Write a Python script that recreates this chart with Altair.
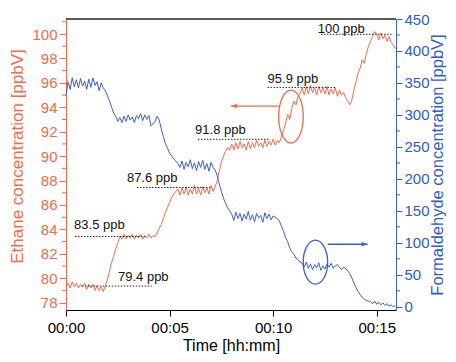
import altair as alt
import pandas as pd

# ---- data ----
time_min = [i / 10 for i in range(160)]  # 0.0 ... 15.9 min sampling grid

ethane = [
    79.3, 79.6, 79.2, 79.7, 79.3, 79.6, 79.2, 79.5, 79.3, 79.6, 79.1, 79.5, 79.2, 79.5, 79.0, 79.4, 79.0, 79.3, 78.9, 79.4,
    79.9, 80.6, 81.3, 81.8, 82.4, 82.9, 83.4, 83.2,
    83.6, 83.2, 83.5, 83.3, 83.6, 83.2, 83.5, 83.3, 83.6, 83.2, 83.5, 83.3, 83.6, 83.3, 83.5, 83.4,
    83.7, 84.1, 84.4, 84.9, 85.4, 85.8, 86.2, 86.6, 86.9, 87.1, 87.3,
    86.8, 87.4, 86.9, 87.5, 86.8, 87.3, 86.9, 87.6, 86.9, 87.4, 86.8, 87.5, 87.0, 87.4, 86.9, 87.6, 87.1, 87.5,
    88.0, 88.8, 89.5, 90.0, 90.4, 90.7, 90.5,
    91.0, 90.5, 91.1, 90.6, 91.2, 90.7, 91.0, 90.5, 91.2, 90.6, 91.1, 90.7, 91.3, 90.8, 91.1, 90.7, 91.3, 90.8, 91.2, 90.9, 91.4, 90.9, 91.3, 91.1,
    91.6, 92.1, 92.7, 93.4, 93.0, 93.9, 94.5, 94.2, 94.9, 95.1,
    95.6, 95.0, 95.7, 95.1, 95.8, 95.2, 95.6, 95.0, 95.7, 95.2, 95.6, 95.1, 95.7, 95.0, 95.5, 95.1, 95.6, 94.9, 95.4, 95.0, 95.2, 94.8,
    94.5, 94.2, 94.6,
    95.4, 96.1, 96.8, 97.2, 97.9, 97.6, 98.4, 99.0, 99.4, 99.8, 100.2, 100.0,
    99.5, 100.1, 99.6, 99.9, 99.4, 99.8, 99.3, 99.1, 98.8,
]

formaldehyde = [
    330, 352, 340, 358, 344, 355, 342, 357, 345, 353, 340, 356, 343, 358, 346, 352, 338, 350, 342,
    338, 330, 322, 312, 303, 298, 290, 296, 288,
    298, 290, 300, 292, 297, 288, 299, 294, 302, 291, 300, 293, 299, 283, 286, 290, 298, 292,
    278, 266, 255, 248, 240, 236, 231, 228, 224,
    218, 228, 215, 226, 219, 230, 216, 225, 213, 227, 218, 229, 215, 224, 212, 226, 218, 214,
    205, 192, 180, 170, 162, 155, 150,
    145, 135, 148, 138, 146, 134, 145, 137, 149, 136, 144, 133, 146, 139, 143, 132, 147, 138, 145, 136, 142, 140, 138, 134,
    126, 118, 108, 102, 92, 86, 82, 76, 74, 70, 68,
    62, 70, 60, 67, 58, 66, 61, 69, 57, 64, 59, 67, 62, 68, 60, 64, 66, 62, 58, 62, 60,
    56, 52, 45, 37, 30, 24, 19, 15, 12, 10, 9, 8,
    5, 9, 4, 7, 3, 6, 2, 5, 1, 3, 0, 2,
]

level_labels = ["79.4 ppb", "83.5 ppb", "87.6 ppb", "91.8 ppb", "95.9 ppb", "100 ppb"]
level_values = [79.36, 83.42, 87.43, 91.38, 95.63, 99.98]
level_start = [0.76, 0.43, 3.43, 6.37, 9.73, 12.31]
level_end = [4.14, 3.81, 6.95, 9.85, 13.03, 15.77]
label_x = [2.51, 0.39, 2.94, 6.23, 9.73, 12.15]
label_y = [79.77, 84.0, 87.92, 91.85, 95.99, 100.08]

left_major = [78, 80, 82, 84, 86, 88, 90, 92, 94, 96, 98, 100]
left_minor = [79, 81, 83, 85, 87, 89, 91, 93, 95, 97, 99, 101]
right_major = [0, 50, 100, 150, 200, 250, 300, 350, 400, 450]
right_minor = [25, 75, 125, 175, 225, 275, 325, 375, 425]
x_ticks = [0, 5, 10, 15]

# annotation anchors (data coordinates)
orange_ellipse_t, orange_ellipse_v = [10.86], [93.24]
orange_arrow_from, orange_arrow_to, orange_arrow_v = [10.27], [7.96], [94.10]
blue_ellipse_t, blue_ellipse_v = [12.04], [69.7]
blue_arrow_from, blue_arrow_to, blue_arrow_v = [12.63], [14.56], [97.8]

# ---- styling ----
ORANGE = "#F2694A"
ORANGE_TXT = "#F46A4C"
BLUE = "#3A5FCD"
BLUE_TXT = "#2F5BC6"
FONT = "Liberation Sans"
W, H = 330, 291

XDOM = [0, 15.93]
LDOM = [77.40, 101.23]
RDOM = [-5, 450]

series = pd.DataFrame({"t": time_min, "ethane": ethane, "hcho": formaldehyde})
levels = pd.DataFrame({"lab": level_labels, "v": level_values, "x0": level_start,
                       "x1": level_end, "lx": label_x, "ly": label_y})

xs = alt.Scale(domain=XDOM, nice=False, zero=False)
ls = alt.Scale(domain=LDOM, nice=False, zero=False)
rs = alt.Scale(domain=RDOM, nice=False, zero=False)

x_axis = alt.Axis(values=x_ticks, labelExpr="'00:' + (datum.value < 10 ? '0' : '') + datum.value",
                  title="Time [hh:mm]", tickSize=6, labelPadding=4, titlePadding=2,
                  domainColor="black", tickColor="black", labelColor="black", titleColor="black",
                  labelFontSize=15, titleFontSize=16, titleFontWeight="normal", grid=False,
                  labelFlush=False)

left_axis = alt.Axis(values=left_major, title="Ethane concentration [ppbV]", orient="left",
                     tickSize=7, labelPadding=2, titlePadding=5, titleY=137,
                     domainColor=ORANGE, tickColor=ORANGE, labelColor=ORANGE_TXT, titleColor=ORANGE_TXT,
                     labelFontSize=15, titleFontSize=17, titleFontWeight="normal", grid=False)

right_axis = alt.Axis(values=right_major, title="Formaldehyde concentration [ppbV]", orient="right",
                      tickSize=6, labelPadding=2, titlePadding=0, titleAngle=270, titleBaseline="top",
                      domainColor=BLUE, tickColor=BLUE, labelColor=BLUE_TXT, titleColor=BLUE_TXT,
                      labelFontSize=15, titleFontSize=16.5, titleFontWeight="normal", grid=False)


def X(field):
    return alt.X(field, scale=xs, axis=x_axis)


def YL(field):
    return alt.Y(field, scale=ls, axis=left_axis)


def YR(field):
    return alt.Y(field, scale=rs, axis=right_axis)


# ---- left (ethane) group ----
orange_line = alt.Chart(series).mark_line(color=ORANGE, strokeWidth=1).encode(
    x=X("t:Q"), y=YL("ethane:Q"))

lminor = alt.Chart(pd.DataFrame({"v": left_minor})).mark_rule(color=ORANGE, strokeWidth=1).encode(
    y=YL("v:Q"), x=alt.value(-4), x2=alt.value(0))

top_line = alt.Chart(pd.DataFrame({"v": [LDOM[1]]})).mark_rule(color="#222222", strokeWidth=1.6).encode(
    y=YL("v:Q"), x=alt.value(0), x2=alt.value(W))

dotted = alt.Chart(levels).mark_rule(color="#222222", strokeWidth=1, strokeDash=[1.5, 1.5]).encode(
    x=X("x0:Q"), x2="x1:Q", y=YL("v:Q"))

texts = alt.Chart(levels).mark_text(align="left", baseline="alphabetic", font=FONT, fontSize=13,
                                    color="#111111").encode(
    x=X("lx:Q"), y=YL("ly:Q"), text="lab:N")

o_ell = alt.Chart(pd.DataFrame({"t": orange_ellipse_t, "v": orange_ellipse_v})).mark_point(
    shape="M0,-1A0.464,1,0,1,1,0,1A0.464,1,0,1,1,0,-1Z", size=2809, filled=False,
    stroke=ORANGE, strokeWidth=1.3, opacity=1).encode(x=X("t:Q"), y=YL("v:Q"))

o_arrow = alt.Chart(pd.DataFrame({"a": orange_arrow_from, "b": orange_arrow_to, "v": orange_arrow_v})).mark_rule(
    color=ORANGE, strokeWidth=1.3).encode(x=X("a:Q"), x2="b:Q", y=YL("v:Q"))

o_head = alt.Chart(pd.DataFrame({"b": orange_arrow_to, "v": orange_arrow_v})).mark_point(
    shape="M0,0L2,-0.75L2,0.75Z", size=36, filled=True, color=ORANGE, opacity=1).encode(
    x=X("b:Q"), y=YL("v:Q"))

left = alt.layer(orange_line, lminor, top_line, dotted, texts, o_ell, o_arrow, o_head)

# ---- right (formaldehyde) group ----
blue_line = alt.Chart(series).mark_line(color=BLUE, strokeWidth=1).encode(
    x=X("t:Q"), y=YR("hcho:Q"))

rminor = alt.Chart(pd.DataFrame({"v": right_minor})).mark_rule(color=BLUE, strokeWidth=1).encode(
    y=YR("v:Q"), x=alt.value(W), x2=alt.value(W + 4))

b_ell = alt.Chart(pd.DataFrame({"t": blue_ellipse_t, "v": blue_ellipse_v})).mark_point(
    shape="M0,-1A0.555,1,0,1,1,0,1A0.555,1,0,1,1,0,-1Z", size=1936, filled=False,
    stroke=BLUE, strokeWidth=1.3, opacity=1).encode(x=X("t:Q"), y=YR("v:Q"))

b_arrow = alt.Chart(pd.DataFrame({"a": blue_arrow_from, "b": blue_arrow_to, "v": blue_arrow_v})).mark_rule(
    color=BLUE, strokeWidth=1.3).encode(x=X("a:Q"), x2="b:Q", y=YR("v:Q"))

b_head = alt.Chart(pd.DataFrame({"b": blue_arrow_to, "v": blue_arrow_v})).mark_point(
    shape="M0,0L-2,-0.75L-2,0.75Z", size=36, filled=True, color=BLUE, opacity=1).encode(
    x=X("b:Q"), y=YR("v:Q"))

right = alt.layer(blue_line, rminor, b_ell, b_arrow, b_head)

chart = alt.layer(left, right).resolve_scale(y="independent").properties(
    width=W, height=H,
    autosize=alt.AutoSizeParams(type="none"),
    padding={"left": 58, "top": 11, "right": 52, "bottom": 44},
).configure_view(stroke=None).configure_axis(
    labelFont=FONT, titleFont=FONT
).configure_text(font=FONT)

chart.save("out.html", embed_options={"renderer": "svg", "actions": False})
